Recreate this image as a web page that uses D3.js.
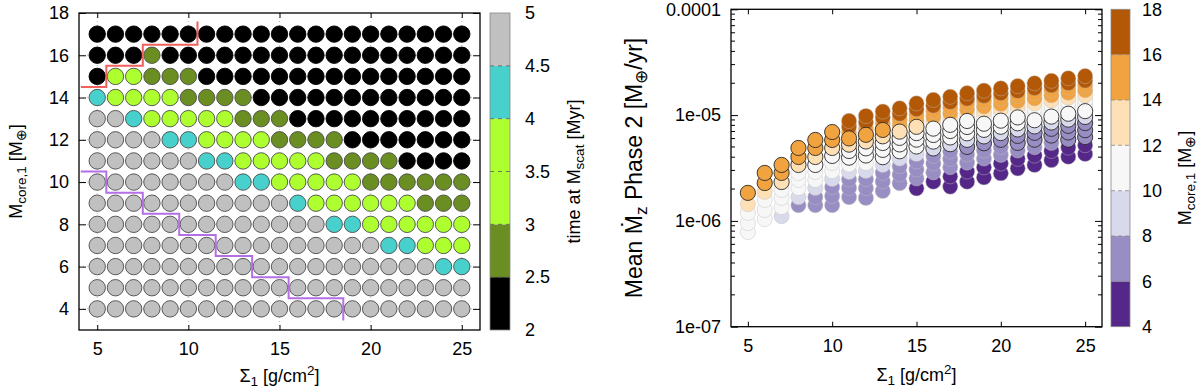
<!DOCTYPE html>
<html>
<head>
<meta charset="utf-8">
<script src="https://cdn.jsdelivr.net/npm/d3@7"></script>
<style>
  body { margin: 0; background: #fff; }
  svg { font-family: "Liberation Sans", Arial, sans-serif; }
</style>
</head>
<body>
<svg id="chart" width="1200" height="390"></svg>
<script>
// ---- data ----
const sigma1 = [5, 6, 7, 8, 9, 10, 11, 12, 13, 14, 15, 16, 17, 18, 19, 20, 21, 22, 23, 24, 25];
const coreMass = [4, 5, 6, 7, 8, 9, 10, 11, 12, 13, 14, 15, 16, 17];

// time at M_scat [Myr], binned as in the colour bar; rows = core mass 4..17, cols = sigma1
const timeAtMscat = [
  [4.8, 4.8, 4.8, 4.8, 4.8, 4.8, 4.8, 4.8, 4.8, 4.8, 4.8, 4.8, 4.8, 4.8, 4.8, 4.8, 4.8, 4.8, 4.8, 4.8, 4.8],
  [4.8, 4.8, 4.8, 4.8, 4.8, 4.8, 4.8, 4.8, 4.8, 4.8, 4.8, 4.8, 4.8, 4.8, 4.8, 4.8, 4.8, 4.8, 4.8, 4.8, 4.8],
  [4.8, 4.8, 4.8, 4.8, 4.8, 4.8, 4.8, 4.8, 4.8, 4.8, 4.8, 4.8, 4.8, 4.8, 4.8, 4.8, 4.8, 4.8, 4.8, 4.2, 4.2],
  [4.8, 4.8, 4.8, 4.8, 4.8, 4.8, 4.8, 4.8, 4.8, 4.8, 4.8, 4.8, 4.8, 4.8, 4.8, 4.8, 4.2, 4.2, 3.5, 3.5, 3.5],
  [4.8, 4.8, 4.8, 4.8, 4.8, 4.8, 4.8, 4.8, 4.8, 4.8, 4.8, 4.8, 4.8, 4.2, 4.2, 3.5, 3.5, 3.5, 3.5, 3.5, 3.5],
  [4.8, 4.8, 4.8, 4.8, 4.8, 4.8, 4.8, 4.8, 4.8, 4.8, 4.8, 4.2, 3.5, 3.5, 3.5, 3.5, 3.5, 3.5, 2.7, 2.7, 2.7],
  [4.8, 4.8, 4.8, 4.8, 4.8, 4.8, 4.8, 4.8, 4.2, 4.2, 3.5, 3.5, 3.5, 3.5, 3.5, 2.7, 2.7, 2.7, 2.7, 2.7, 2.7],
  [4.8, 4.8, 4.8, 4.8, 4.8, 4.8, 4.2, 4.2, 3.5, 3.5, 3.5, 3.5, 3.5, 2.7, 2.7, 2.7, 2.7, 2.2, 2.2, 2.2, 2.2],
  [4.8, 4.8, 4.8, 4.8, 4.2, 4.2, 3.5, 3.5, 3.5, 3.5, 2.7, 2.7, 2.7, 2.7, 2.2, 2.2, 2.2, 2.2, 2.2, 2.2, 2.2],
  [4.8, 4.8, 4.2, 3.5, 3.5, 3.5, 3.5, 3.5, 2.7, 2.7, 2.7, 2.2, 2.2, 2.2, 2.2, 2.2, 2.2, 2.2, 2.2, 2.2, 2.2],
  [4.2, 3.5, 3.5, 3.5, 3.5, 2.7, 2.7, 2.7, 2.7, 2.2, 2.2, 2.2, 2.2, 2.2, 2.2, 2.2, 2.2, 2.2, 2.2, 2.2, 2.2],
  [2.2, 3.5, 3.5, 2.7, 2.7, 2.7, 2.2, 2.2, 2.2, 2.2, 2.2, 2.2, 2.2, 2.2, 2.2, 2.2, 2.2, 2.2, 2.2, 2.2, 2.2],
  [2.2, 2.2, 2.2, 2.7, 2.2, 2.2, 2.2, 2.2, 2.2, 2.2, 2.2, 2.2, 2.2, 2.2, 2.2, 2.2, 2.2, 2.2, 2.2, 2.2, 2.2],
  [2.2, 2.2, 2.2, 2.2, 2.2, 2.2, 2.2, 2.2, 2.2, 2.2, 2.2, 2.2, 2.2, 2.2, 2.2, 2.2, 2.2, 2.2, 2.2, 2.2, 2.2]
];

// mean Mdot_z in phase 2, in units of 1e-6 M_earth/yr; rows = core mass 4..17, cols = sigma1
const mdotPhase2 = [
  [null, null, null, null, null, null, null, null, null, null, null, null, 2.11, 2.35, 2.58, 2.82, 3.14, 3.38, 3.76, 4.04, 4.3],
  [null, null, null, null, null, null, null, null, null, null, 2.03, 2.35, 2.64, 2.93, 3.21, 3.49, 3.86, 4.15, 4.59, 4.93, 5.2],
  [null, null, null, null, null, 1.41, 1.68, 1.65, 1.92, 2.27, 2.52, 2.88, 3.22, 3.56, 3.89, 4.21, 4.63, 4.97, 5.47, 5.86, 6.2],
  [null, null, null, null, 1.41, 1.72, 2.05, 2.04, 2.36, 2.75, 3.06, 3.48, 3.85, 4.25, 4.62, 4.99, 5.46, 5.85, 6.41, 6.85, 7.2],
  [null, null, null, 1.41, 1.68, 2.09, 2.46, 2.48, 2.85, 3.29, 3.65, 4.12, 4.55, 5.00, 5.42, 5.84, 6.36, 6.80, 7.42, 7.91, 8.4],
  [null, null, 1.11, 1.68, 2.05, 2.49, 2.91, 2.97, 3.39, 3.89, 4.31, 4.84, 5.31, 5.83, 6.29, 6.76, 7.32, 7.82, 8.51, 9.06, 9.6],
  [0.785, 1.04, 1.35, 2.05, 2.44, 2.96, 3.41, 3.53, 4.00, 4.55, 5.05, 5.62, 6.15, 6.73, 7.25, 7.76, 8.37, 8.94, 9.68, 10.3, 10.9],
  [0.955, 1.27, 1.65, 2.44, 2.90, 3.53, 3.96, 4.15, 4.69, 5.28, 5.86, 6.49, 7.07, 7.72, 8.29, 8.86, 9.51, 10.2, 11.0, 11.6, 12.3],
  [1.19, 1.58, 1.96, 2.84, 3.38, 4.11, 4.58, 4.85, 5.45, 6.09, 6.76, 7.45, 8.09, 8.80, 9.43, 10.1, 10.8, 11.5, 12.3, 13.1, 13.8],
  [1.44, 1.88, 2.33, 3.38, 4.02, 4.89, 5.26, 5.63, 6.30, 6.98, 7.75, 8.50, 9.21, 10.0, 10.7, 11.4, 12.1, 12.9, 13.8, 14.6, 15.4],
  [1.84, 2.28, 2.84, 4.02, 4.89, 5.82, 6.02, 6.51, 7.24, 7.97, 8.86, 9.66, 10.4, 11.3, 12.1, 12.8, 13.6, 14.4, 15.4, 16.3, 17.2],
  [null, 2.84, 3.38, 4.89, 5.82, 6.92, 6.85, 7.49, 8.30, 9.07, 10.1, 10.9, 11.8, 12.8, 13.6, 14.4, 15.2, 16.1, 17.2, 18.1, 19.1],
  [null, null, null, null, null, null, 7.78, 8.59, 9.47, 10.3, 11.4, 12.3, 13.3, 14.3, 15.2, 16.1, 16.9, 18.0, 19.1, 20.1, 21.2],
  [null, null, null, null, null, null, 8.80, 9.81, 10.8, 11.6, 12.9, 13.9, 14.9, 16.1, 17.0, 17.9, 18.8, 20.0, 21.1, 22.3, 23.4]
];

// step boundaries drawn over the left panel
const redStepSigma = [4.1, 5.5, 5.5, 7.5, 7.5, 10.5, 10.5];
const redStepMass = [14.5, 14.5, 15.5, 15.5, 16.5, 16.5, 17.6];
const purpleStepSigma = [4.1, 5.5, 5.5, 7.5, 7.5, 9.5, 9.5, 11.5, 11.5, 13.5, 13.5, 15.5, 15.5, 18.5, 18.5];
const purpleStepMass = [10.5, 10.5, 9.5, 9.5, 8.5, 8.5, 7.5, 7.5, 6.5, 6.5, 5.5, 5.5, 4.5, 4.5, 3.45];

const timeBins = [2.5, 3, 4, 4.5];
const timeColors = ['#000000', '#6b8e23', '#adff2f', '#48d1cc', '#c0c0c0'];
const timeTicks = [2, 2.5, 3, 3.5, 4, 4.5, 5];
const massBins = [6, 8, 10, 12, 14, 16];          // colour-bar edges
const massPointEdges = [6, 9, 10, 13, 14, 16];    // edges as the points come out (values on an edge fall either way)
const massColors = ['#542788', '#998ec3', '#d8daeb', '#f7f7f7', '#fee0b6', '#f1a340', '#b35806'];
const massTicks = [4, 6, 8, 10, 12, 14, 16, 18];
const sigmaTicks = [5, 10, 15, 20, 25];
const leftMassTicks = [4, 6, 8, 10, 12, 14, 16, 18];
const mdotTicks = [1e-7, 1e-6, 1e-5, 1e-4];
const mdotTickLabels = ['1e-07', '1e-06', '1e-05', '0.0001'];

// ---- helpers ----
const svg = d3.select('#chart');
const FS = 18;

function richText(parent, parts, size) {
  const t = parent.append('text').attr('font-size', size).attr('fill', '#000');
  let shift = 0;
  parts.forEach(([txt, kind]) => {
    const target = kind === 'sub' ? size * 0.2 : kind === 'sup' ? -size * 0.4 : 0;
    t.append('tspan')
      .attr('dy', target - shift)
      .attr('font-size', kind ? size * 0.75 : size)
      .text(txt);
    shift = target;
  });
  return t;
}

function inwardAxes(g, x, y, box, yTicks, yFormat, padX) {
  const tick = 5;
  g.append('g').attr('transform', `translate(0,${box.bottom})`)
    .call(d3.axisBottom(x).tickValues(sigmaTicks).tickSize(-tick).tickPadding(padX))
    .call((a) => a.select('.domain').remove());
  g.append('g').attr('transform', `translate(0,${box.top})`)
    .call(d3.axisTop(x).tickValues(sigmaTicks).tickSize(-tick).tickFormat(''))
    .call((a) => a.select('.domain').remove());
  g.append('g').attr('transform', `translate(${box.left},0)`)
    .call(d3.axisLeft(y).tickValues(yTicks).tickSize(-tick - 2).tickPadding(10).tickFormat(yFormat))
    .call((a) => a.select('.domain').remove());
  g.append('g').attr('transform', `translate(${box.right},0)`)
    .call(d3.axisRight(y).tickValues(yTicks).tickSize(-tick - 2).tickFormat(''))
    .call((a) => a.select('.domain').remove());
  g.selectAll('.tick text').attr('font-size', FS).attr('font-family', '"Liberation Sans", Arial, sans-serif').attr('fill', '#000');
  g.selectAll('.tick line').attr('stroke', '#000');
}

// ---- left panel ----
const L = { left: 79, right: 480, top: 13, bottom: 330 };
const xL = d3.scaleLinear().domain([4, 26]).range([L.left, L.right]);
const yL = d3.scaleLinear().domain([3, 18]).range([L.bottom, L.top]);
const timeColor = d3.scaleThreshold().domain(timeBins).range(timeColors);
const gL = svg.append('g');

// dotted grid
gL.append('g').selectAll('line').data(sigmaTicks).join('line')
  .attr('x1', (d) => xL(d)).attr('x2', (d) => xL(d))
  .attr('y1', L.top).attr('y2', L.bottom)
  .attr('stroke', '#b0b0b0').attr('stroke-width', 0.8).attr('stroke-dasharray', '1,3');
gL.append('g').selectAll('line').data(leftMassTicks.slice(0, -1)).join('line')
  .attr('x1', L.left).attr('x2', L.right)
  .attr('y1', (d) => yL(d)).attr('y2', (d) => yL(d))
  .attr('stroke', '#b0b0b0').attr('stroke-width', 0.8).attr('stroke-dasharray', '1,3');

const cells = [];
coreMass.forEach((m, i) => sigma1.forEach((s, j) => cells.push({ s, m, t: timeAtMscat[i][j] })));
gL.append('g').selectAll('circle').data(cells).join('circle')
  .attr('cx', (d) => xL(d.s)).attr('cy', (d) => yL(d.m)).attr('r', 8.2)
  .attr('fill', (d) => timeColor(d.t))
  .attr('stroke', (d) => (d.t < 2.5 ? '#000' : '#4a4a4a')).attr('stroke-width', 0.9);

const stepLine = d3.line().x((d) => xL(d[0])).y((d) => yL(d[1]));
gL.append('path').datum(redStepSigma.map((s, i) => [s, redStepMass[i]]))
  .attr('d', stepLine).attr('fill', 'none').attr('stroke', '#f0605c').attr('stroke-width', 2);
gL.append('path').datum(purpleStepSigma.map((s, i) => [s, purpleStepMass[i]]))
  .attr('d', stepLine).attr('fill', 'none').attr('stroke', '#b46ee6').attr('stroke-width', 2);

inwardAxes(gL, xL, yL, L, leftMassTicks, d3.format('d'), 12);
gL.append('rect').attr('x', L.left).attr('y', L.top)
  .attr('width', L.right - L.left).attr('height', L.bottom - L.top)
  .attr('fill', 'none').attr('stroke', '#000').attr('stroke-width', 1.3);

richText(gL, [['Σ'], ['1', 'sub'], [' [g/cm'], ['2', 'sup'], [']']], FS)
  .attr('x', (L.left + L.right) / 2).attr('y', 382).attr('text-anchor', 'middle');
richText(gL, [['M'], ['core,1', 'sub'], [' [M'], ['⊕', 'sub'], [']']], FS)
  .attr('text-anchor', 'middle').attr('transform', `translate(22,${(L.top + L.bottom) / 2}) rotate(-90)`);

// left colour bar
const cbL = { left: 490, right: 510, top: 13, bottom: 330 };
const cbLy = d3.scaleLinear().domain([2, 5]).range([cbL.bottom, cbL.top]);
const timeEdges = [2, ...timeBins, 5];
const gCL = svg.append('g');
gCL.selectAll('rect.seg').data(timeColors).join('rect')
  .attr('x', cbL.left).attr('width', cbL.right - cbL.left)
  .attr('y', (d, i) => cbLy(timeEdges[i + 1])).attr('height', (d, i) => cbLy(timeEdges[i]) - cbLy(timeEdges[i + 1]))
  .attr('fill', (d) => d);
gCL.selectAll('line.tk').data(timeTicks.slice(1, -1)).join('line')
  .attr('x1', cbL.left).attr('x2', cbL.right)
  .attr('y1', (d) => cbLy(d)).attr('y2', (d) => cbLy(d))
  .attr('stroke', '#555').attr('stroke-width', 0.8).attr('stroke-dasharray', '4,4');
gCL.append('rect').attr('x', cbL.left).attr('y', cbL.top)
  .attr('width', cbL.right - cbL.left).attr('height', cbL.bottom - cbL.top)
  .attr('fill', 'none').attr('stroke', '#888').attr('stroke-width', 0.8);
gCL.selectAll('text.tl').data(timeTicks).join('text')
  .attr('x', 525).attr('y', (d) => cbLy(d)).attr('dy', '0.35em')
  .attr('font-size', FS).text((d) => d3.format('~g')(d));
richText(gCL, [['time at M'], ['scat', 'sub'], [' [Myr]']], FS)
  .attr('text-anchor', 'middle').attr('transform', `translate(580,${(cbL.top + cbL.bottom) / 2}) rotate(-90)`);

// ---- right panel ----
const R = { left: 731, right: 1102, top: 9.3, bottom: 326.7 };
const xR = d3.scaleLinear().domain([4, 26]).range([R.left, R.right]);
const yR = d3.scaleLog().domain([1e-7, 1e-4]).range([R.bottom, R.top]);
const massColor = d3.scaleThreshold().domain(massPointEdges).range(massColors);
const gR = svg.append('g');

const pts = [];
coreMass.forEach((m, i) => sigma1.forEach((s, j) => {
  const v = mdotPhase2[i][j];
  if (v == null) return;
  const t = timeAtMscat[i][j];
  pts.push({ s, m, v: v * 1e-6, outlined: t >= 2.5 && t < 4.5 });
}));
pts.sort((a, b) => (a.outlined - b.outlined) || (a.m - b.m));

gR.append('g').selectAll('circle').data(pts).join('circle')
  .attr('cx', (d) => xR(d.s)).attr('cy', (d) => yR(d.v)).attr('r', 7.6)
  .attr('fill', (d) => massColor(d.m))
  .attr('stroke', (d) => (d.outlined ? '#2a2a2a' : 'rgba(190,190,190,0.55)'))
  .attr('stroke-width', (d) => (d.outlined ? 0.9 : 0.8));

inwardAxes(gR, xR, yR, R, mdotTicks, (d, i) => mdotTickLabels[i], 12.5);

// minor log ticks
const minor = [];
mdotTicks.slice(0, -1).forEach((dec) => [2, 3, 4, 5, 6, 7, 8, 9].forEach((k) => minor.push(dec * k)));
[[R.left, 4], [R.right, -4]].forEach(([x0, len]) => {
  gR.append('g').selectAll('line').data(minor).join('line')
    .attr('x1', x0).attr('x2', x0 + len)
    .attr('y1', (d) => yR(d)).attr('y2', (d) => yR(d))
    .attr('stroke', '#000');
});
gR.append('rect').attr('x', R.left).attr('y', R.top)
  .attr('width', R.right - R.left).attr('height', R.bottom - R.top)
  .attr('fill', 'none').attr('stroke', '#000').attr('stroke-width', 1.3);

richText(gR, [['Σ'], ['1', 'sub'], [' [g/cm'], ['2', 'sup'], [']']], FS)
  .attr('x', (R.left + R.right) / 2).attr('y', 381).attr('text-anchor', 'middle');
richText(gR, [['Mean Ṁ'], ['z', 'sub'], [' Phase 2 [M'], ['⊕', 'sub'], ['/yr]']], 23)
  .attr('text-anchor', 'middle').attr('transform', `translate(642,${(R.top + R.bottom) / 2}) rotate(-90)`);

// right colour bar
const cbR = { left: 1111, right: 1130, top: 9.3, bottom: 326.7 };
const cbRy = d3.scaleLinear().domain([4, 18]).range([cbR.bottom, cbR.top]);
const massEdges = [4, ...massBins, 18];
const gCR = svg.append('g');
gCR.selectAll('rect.seg').data(massColors).join('rect')
  .attr('x', cbR.left).attr('width', cbR.right - cbR.left)
  .attr('y', (d, i) => cbRy(massEdges[i + 1])).attr('height', (d, i) => cbRy(massEdges[i]) - cbRy(massEdges[i + 1]))
  .attr('fill', (d) => d);
gCR.selectAll('line.tk').data(massBins).join('line')
  .attr('x1', cbR.left).attr('x2', cbR.right)
  .attr('y1', (d) => cbRy(d)).attr('y2', (d) => cbRy(d))
  .attr('stroke', '#888').attr('stroke-width', 0.8).attr('stroke-dasharray', '4,3');
gCR.append('rect').attr('x', cbR.left).attr('y', cbR.top)
  .attr('width', cbR.right - cbR.left).attr('height', cbR.bottom - cbR.top)
  .attr('fill', 'none').attr('stroke', '#888').attr('stroke-width', 0.8);
gCR.selectAll('text.tl').data(massTicks).join('text')
  .attr('x', 1142).attr('y', (d) => cbRy(d)).attr('dy', '0.35em')
  .attr('font-size', FS).text((d) => d);
richText(gCR, [['M'], ['core,1', 'sub'], [' [M'], ['⊕', 'sub'], [']']], FS)
  .attr('text-anchor', 'middle').attr('transform', `translate(1191,178) rotate(-90)`);
</script>
</body>
</html>
